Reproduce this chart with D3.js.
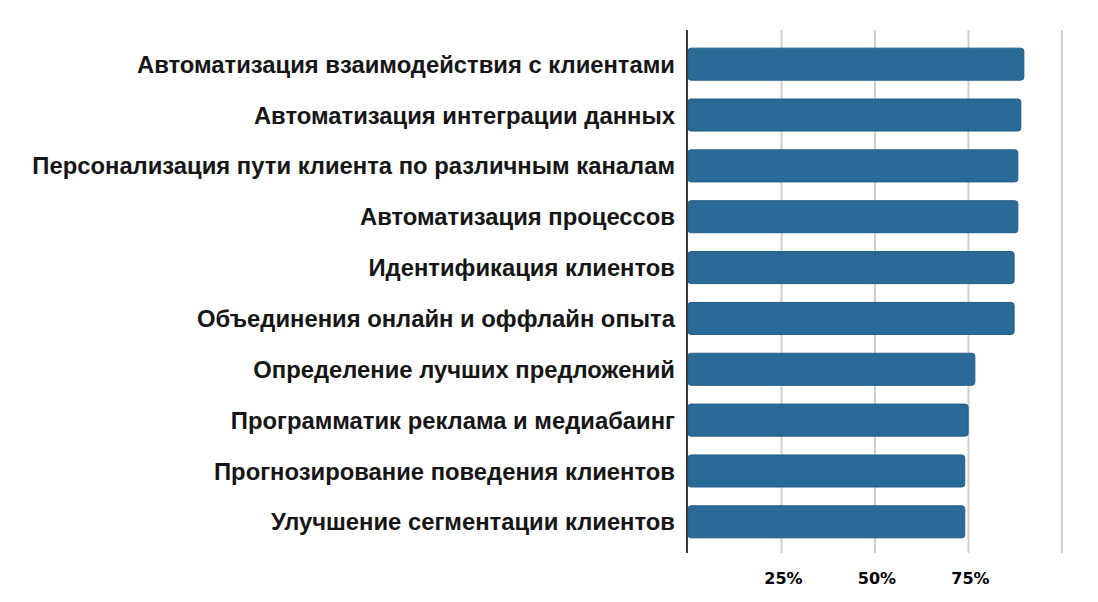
<!DOCTYPE html>
<html><head><meta charset="utf-8">
<script src="https://cdn.jsdelivr.net/npm/d3@7/dist/d3.min.js"></script>
<style>body{margin:0;background:#fff}</style>
</head><body>
<svg id="chart" width="1098" height="602"></svg>
<script>
const categories = [
  "Автоматизация взаимодействия с клиентами",
  "Автоматизация интеграции данных",
  "Персонализация пути клиента по различным каналам",
  "Автоматизация процессов",
  "Идентификация клиентов",
  "Объединения онлайн и оффлайн опыта",
  "Определение лучших предложений",
  "Программатик реклама и медиабаинг",
  "Прогнозирование поведения клиентов",
  "Улучшение сегментации клиентов"
];
const values = [89.8, 89.0, 88.2, 88.2, 87.2, 87.2, 76.7, 74.9, 74.0, 74.0];
const tickValues = [25, 50, 75, 100];
const tickLabels = ["25%", "50%", "75%", ""];

const svg = d3.select("#chart");
const x = d3.scaleLinear().domain([0, 100]).range([688, 1062]);
const y = d3.scaleBand().domain(categories).range([39, 547]).paddingInner(0.37).paddingOuter(0.18);

// gridlines
svg.append("g").selectAll("line").data(tickValues).join("line")
  .attr("x1", d => x(d)).attr("x2", d => x(d))
  .attr("y1", 30).attr("y2", 553)
  .attr("stroke", "#cfcfcf").attr("stroke-width", 2);

// bars
svg.append("g").selectAll("rect").data(values).join("rect")
  .attr("x", x(0))
  .attr("y", (d, i) => y(categories[i]))
  .attr("width", d => x(d) - x(0))
  .attr("height", y.bandwidth())
  .attr("rx", 3)
  .attr("fill", "#2a6a97")
  .attr("stroke", "#245d86").attr("stroke-width", 1);

// axis line
svg.append("line").attr("x1", 687).attr("x2", 687).attr("y1", 30).attr("y2", 553)
  .attr("stroke", "#3a3a3a").attr("stroke-width", 2);

// category labels
svg.append("g").selectAll("text").data(categories).join("text")
  .attr("x", 675)
  .attr("y", d => y(d) + y.bandwidth() / 2)
  .attr("dy", "0.36em")
  .attr("text-anchor", "end")
  .attr("font-family", "'Liberation Sans', Arial, sans-serif")
  .attr("font-weight", "bold")
  .attr("font-size", 23.8)
  .attr("fill", "#151515")
  .text(d => d);

// tick labels
svg.append("g").selectAll("text").data(tickValues).join("text")
  .attr("x", d => x(d) + 2)
  .attr("y", 584)
  .attr("text-anchor", "middle")
  .attr("font-family", "'DejaVu Sans', Verdana, sans-serif")
  .attr("font-weight", "bold")
  .attr("font-size", 16)
  .attr("fill", "#000")
  .text((d, i) => tickLabels[i]);
</script>
</body></html>
